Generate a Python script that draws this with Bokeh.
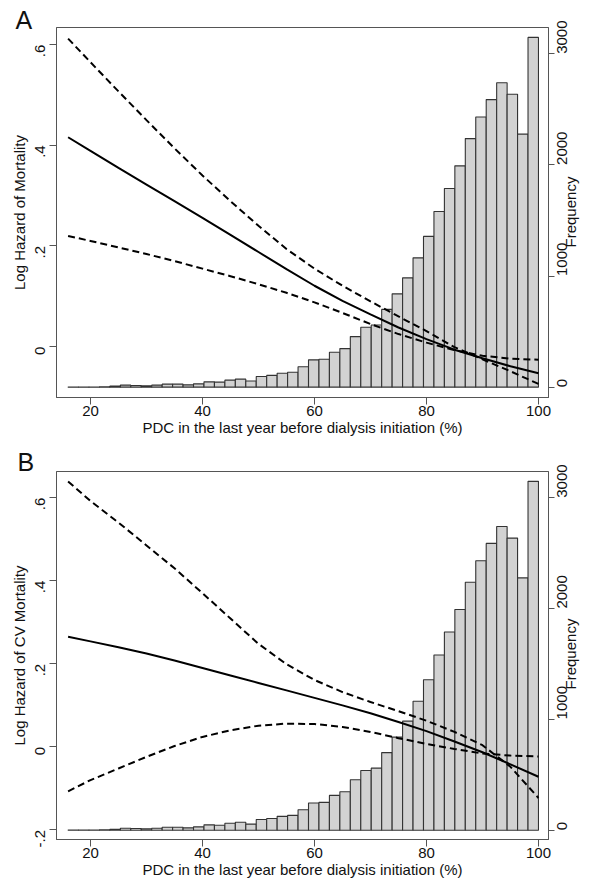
import math
import numpy as np
from bokeh.plotting import figure
from bokeh.models import Range1d, LinearAxis, FixedTicker, Title
from bokeh.layouts import column
from bokeh.embed import file_html
from bokeh.resources import INLINE

# ---- data ----
pdc = [16, 20, 25, 30, 35, 40, 45, 50, 55, 60, 65, 70, 75, 80, 85, 90, 95, 100]

# Panel A: all-cause mortality (log hazard)
a_est = [0.416, 0.389, 0.355, 0.322, 0.289, 0.256, 0.222, 0.188, 0.154, 0.121,
         0.091, 0.064, 0.038, 0.015, -0.006, -0.023, -0.039, -0.053]
a_hi = [0.612, 0.565, 0.507, 0.450, 0.394, 0.340, 0.289, 0.240, 0.194, 0.155,
        0.121, 0.090, 0.060, 0.031, -0.001, -0.025, -0.049, -0.074]
a_lo = [0.220, 0.210, 0.197, 0.184, 0.170, 0.155, 0.140, 0.124, 0.107, 0.088,
        0.067, 0.045, 0.025, 0.008, -0.007, -0.018, -0.024, -0.026]

# Panel B: CV mortality (log hazard)
b_est = [0.265, 0.254, 0.240, 0.225, 0.208, 0.190, 0.172, 0.154, 0.136, 0.118,
         0.100, 0.081, 0.060, 0.038, 0.013, -0.013, -0.042, -0.072]
b_hi = [0.639, 0.592, 0.540, 0.485, 0.430, 0.370, 0.309, 0.248, 0.199, 0.161,
        0.132, 0.108, 0.086, 0.063, 0.036, 0.004, -0.048, -0.123]
b_lo = [-0.107, -0.080, -0.052, -0.024, 0.002, 0.024, 0.040, 0.051, 0.056, 0.055,
        0.048, 0.036, 0.021, 0.007, -0.005, -0.016, -0.021, -0.023]

# Histogram of PDC (45 bins from 16 to 100)
hist_min, hist_max, n_bins = 16, 100, 45
freq = [1, 2, 2, 4, 9, 18, 15, 12, 18, 27, 27, 21, 30, 48, 45, 63, 72, 55, 96,
        106, 125, 134, 184, 246, 251, 314, 347, 455, 539, 560, 700, 840, 984,
        1164, 1357, 1581, 1788, 1992, 2237, 2432, 2588, 2740, 2636, 2277, 3148]

x_ticks = [20, 40, 60, 80, 100]
a_yticks = [0, 0.2, 0.4, 0.6]
b_yticks = [-0.2, 0, 0.2, 0.4, 0.6]
freq_ticks = [0, 1000, 2000, 3000]
y_tick_labels = {-0.2: "-.2", 0: "0", 0.2: ".2", 0.4: ".4", 0.6: ".6"}

edges = np.linspace(hist_min, hist_max, n_bins + 1)

FONT = "Liberation Sans"
FS = "15px"
FRAME = "#555555"
TXT = "#111111"
NBSP = "\u00a0"


def make_title(letter, offset, standoff):
    kw = dict(text=letter, align="left", offset=offset, text_font=FONT,
              text_font_size="25px", text_font_style="normal",
              text_color=TXT, vertical_align="bottom")
    try:
        return Title(standoff=standoff, **kw)
    except Exception:
        return Title(standoff=0, **kw)


def panel(letter, letter_offset, letter_standoff, ylabel, yrange, yticks,
          est, lo, hi, freq_range, height, top, bottom):
    p = figure(width=591, height=height, output_backend="svg",
               toolbar_location=None,
               x_range=Range1d(13.93, 101.79), y_range=Range1d(*yrange),
               min_border_left=56, min_border_right=43,
               min_border_top=top, min_border_bottom=bottom,
               background_fill_color="white", border_fill_color="white")
    p.extra_y_ranges = {"freq": Range1d(*freq_range)}
    p.xgrid.visible = False
    p.ygrid.visible = False
    p.outline_line_color = FRAME
    p.outline_line_width = 1

    p.add_layout(make_title(letter, letter_offset, letter_standoff), "above")

    p.quad(left=edges[:-1], right=edges[1:], bottom=0, top=freq,
           y_range_name="freq", fill_color="#d2d2d2",
           line_color="#333333", line_width=1.1)

    p.line(pdc, hi, line_color="black", line_width=2, line_dash="7 4")
    p.line(pdc, lo, line_color="black", line_width=2, line_dash="7 4")
    p.line(pdc, est, line_color="black", line_width=2)

    # bottom axis
    xa = p.xaxis[0]
    xa.ticker = FixedTicker(ticks=x_ticks)
    xa.axis_label = "PDC in the last year before dialysis initiation (%)"

    # left axis
    ya = p.yaxis[0]
    ya.ticker = FixedTicker(ticks=yticks)
    ya.major_label_overrides = {t: y_tick_labels[t] for t in yticks}
    ya.major_label_orientation = math.pi / 2
    ya.axis_label = ylabel

    # right axis (frequency of the histogram), label reading bottom-to-top
    ra = LinearAxis(y_range_name="freq", ticker=FixedTicker(ticks=freq_ticks),
                    axis_label="Frequency")
    ra.major_label_orientation = math.pi / 2
    try:
        ra.axis_label_orientation = math.pi / 2
        ra.axis_label_align = "start"
        # the rotated label starts at the bottom of the axis; pad it so that
        # the visible word sits at the middle of the axis as in the original
        ra.axis_label = NBSP * 36 + "Frequency"
    except Exception:
        pass
    p.add_layout(ra, "right")

    for ax in (xa, ya, ra):
        ax.axis_line_color = FRAME
        ax.major_tick_line_color = FRAME
        ax.major_tick_out = 7
        ax.major_tick_in = 0
        ax.minor_tick_out = 0
        ax.minor_tick_in = 0
        ax.major_label_text_font = FONT
        ax.major_label_text_font_size = FS
        ax.major_label_text_color = TXT
        ax.axis_label_text_font = FONT
        ax.axis_label_text_font_size = FS
        ax.axis_label_text_font_style = "normal"
        ax.axis_label_text_color = TXT
    xa.major_label_standoff = 1
    xa.axis_label_standoff = 0
    ya.major_label_standoff = 9
    ya.axis_label_standoff = 0
    ra.major_tick_out = 6
    ra.major_label_standoff = 8
    try:
        ra.axis_label_standoff = -5
    except Exception:
        ra.axis_label_standoff = 0
    return p


pa = panel("A", -41, -12, "Log Hazard of Mortality", (-0.101, 0.634),
           a_yticks, a_est, a_lo, a_hi, (-93, 3237),
           height=440, top=27, bottom=43)
pb = panel("B", -39, -8, "Log Hazard of CV Mortality", (-0.223, 0.663),
           b_yticks, b_est, b_lo, b_hi, (-84, 3237),
           height=442, top=31, bottom=43)

layout = column(pa, pb)
open("out.html", "w").write(file_html(layout, INLINE))
